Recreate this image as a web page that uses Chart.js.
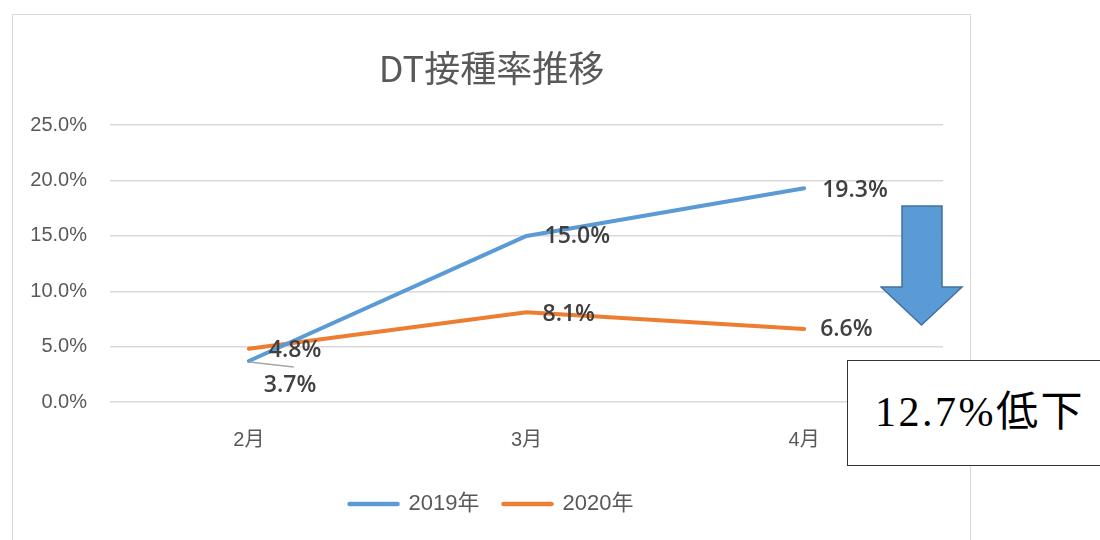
<!DOCTYPE html>
<html lang="ja">
<head>
<meta charset="utf-8">
<title>DT接種率推移</title>
<script src="https://cdn.jsdelivr.net/npm/chart.js@4.4.1/dist/chart.umd.min.js"></script>
<style>
  html, body { margin: 0; padding: 0; background: #fff; }
  body { width: 1100px; height: 540px; position: relative; overflow: hidden; }
  #frame {
    position: absolute; left: 12px; top: 14px;
    width: 957px; height: 540px;
    border: 1px solid #d9d9d9;
  }
  #chart { display: block; }
  #arrow { position: absolute; left: 880px; top: 205px; }
  #note {
    position: absolute; left: 847px; top: 360px;
    width: 270px; height: 106px;
    border: 1px solid #333;
    background: #fff;
    font-family: "Liberation Serif", "Noto Sans CJK JP", serif;
    font-size: 42px;
    color: #000;
    line-height: 102px;
    padding-left: 27px;
    box-sizing: border-box;
    letter-spacing: 2.5px;
  }
</style>
</head>
<body>
<div id="frame">
  <canvas id="chart" width="957" height="525"></canvas>
</div>
<svg id="arrow" width="84" height="124" viewBox="0 0 84 124">
  <polygon points="22,1 62,1 62,82 82,82 41.5,120 1,82 22,82"
           fill="#5b9bd5" stroke="#41719c" stroke-width="1.5" stroke-linejoin="miter"/>
</svg>
<div id="note">12.7%低下</div>

<script>
// chart data
const months = ['2月', '3月', '4月'];
const rate2019 = [3.7, 15.0, 19.3];
const rate2020 = [4.8, 8.1, 6.6];
const yTicksMax = 25;
const yTicksStep = 5;

// where each value label sits, relative to its point: [dx, dy, leader line?]
const labelShift2019 = [[15, 24, true], [18, 1, false], [18, 2, false]];
const labelShift2020 = [[20, 2, false], [16, 2, false], [16, 1, false]];

const textGray = '#595959';
const titleText = 'DT接種率推移';
const titleFont = '36px "Noto Sans CJK JP", sans-serif';
const labelFont = '600 23px "Open Sans", "Liberation Sans", sans-serif';

Chart.defaults.font.family = '"Liberation Sans", "Noto Sans CJK JP", sans-serif';
Chart.defaults.color = textGray;

// title and legend are centred on the whole frame, not on the padded layout box
const frameCentre = {
  id: 'frameCentre',
  beforeDraw(chart) {
    const lg = chart.legend;
    const shift = chart.width / 2 - (lg.left + lg.right) / 2;
    lg.left += shift;
    lg.right += shift;
  },
  afterDraw(chart) {
    const tb = chart.titleBlock;
    const ctx = chart.ctx;
    ctx.save();
    ctx.font = titleFont;
    ctx.fillStyle = textGray;
    ctx.textAlign = 'center';
    ctx.textBaseline = 'middle';
    ctx.fillText(titleText, chart.width / 2, tb.top + 32 + 21.6);
    ctx.restore();
  }
};

// draws the value labels next to the line points
const valueLabels = {
  id: 'valueLabels',
  afterDatasetsDraw(chart) {
    const ctx = chart.ctx;
    const shifts = [labelShift2019, labelShift2020];
    ctx.save();
    ctx.font = labelFont;
    ctx.fillStyle = '#404040';
    ctx.textAlign = 'left';
    ctx.textBaseline = 'middle';
    chart.data.datasets.forEach((ds, di) => {
      const meta = chart.getDatasetMeta(di);
      meta.data.forEach((pt, i) => {
        const [dx, dy, leader] = shifts[di][i];
        if (leader) {
          ctx.save();
          ctx.strokeStyle = '#a6a6a6';
          ctx.lineWidth = 1.5;
          ctx.beginPath();
          ctx.moveTo(pt.x, pt.y + 1);
          ctx.lineTo(pt.x + dx + 30, pt.y + 6);
          ctx.stroke();
          ctx.restore();
        }
        ctx.fillText(ds.data[i].toFixed(1) + '%', pt.x + dx, pt.y + dy);
      });
    });
    ctx.restore();
  }
};

new Chart(document.getElementById('chart'), {
  type: 'line',
  data: {
    labels: months,
    datasets: [
      {
        label: '2019年',
        data: rate2019,
        borderColor: '#5b9bd5',
        backgroundColor: '#5b9bd5',
        borderWidth: 4,
        borderCapStyle: 'round',
        borderJoinStyle: 'round',
        pointRadius: 0,
        tension: 0
      },
      {
        label: '2020年',
        data: rate2020,
        borderColor: '#ed7d31',
        backgroundColor: '#ed7d31',
        borderWidth: 4,
        borderCapStyle: 'round',
        borderJoinStyle: 'round',
        pointRadius: 0,
        tension: 0
      }
    ]
  },
  options: {
    responsive: false,
    animation: false,
    devicePixelRatio: 1,
    layout: { padding: { left: 0, right: 27, top: 0, bottom: 15 } },
    plugins: {
      title: {
        display: true,
        text: titleText,
        color: 'rgba(0,0,0,0)',
        font: { family: '"Noto Sans CJK JP", sans-serif', size: 36, weight: 'normal' },
        padding: { top: 32, bottom: 35 }
      },
      legend: {
        position: 'bottom',
        labels: {
          usePointStyle: true,
          pointStyleWidth: 48,
          padding: 24,
          color: textGray,
          font: { size: 22 },
          generateLabels(chart) {
            return chart.data.datasets.map((ds, i) => ({
              text: ds.label,
              fillStyle: ds.borderColor,
              strokeStyle: ds.borderColor,
              lineWidth: 4.5,
              lineCap: 'round',
              pointStyle: 'line',
              fontColor: textGray,
              hidden: false,
              datasetIndex: i
            }));
          }
        }
      },
      tooltip: { enabled: false }
    },
    scales: {
      x: {
        offset: true,
        grid: { display: false },
        border: { display: false },
        ticks: { padding: 18, font: { size: 20 }, color: textGray },
        afterFit(scale) { scale.height = 67; }
      },
      y: {
        min: 0,
        max: yTicksMax,
        border: { display: false },
        grid: { color: '#d9d9d9', lineWidth: 1.5, drawTicks: false },
        ticks: {
          stepSize: yTicksStep,
          padding: 23,
          font: { size: 20 },
          color: textGray,
          callback: v => v.toFixed(1) + '%'
        },
        afterFit(scale) { scale.width = 97; }
      }
    }
  },
  plugins: [valueLabels, frameCentre]
});
</script>
</body>
</html>
